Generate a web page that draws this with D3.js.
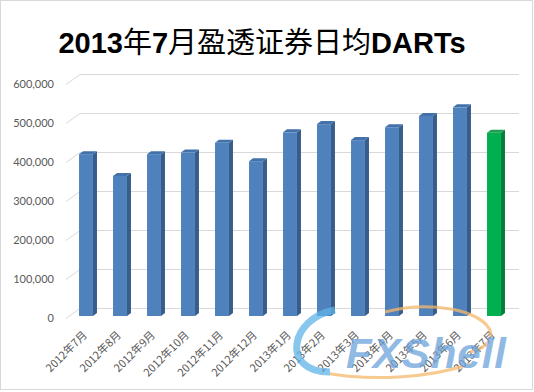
<!DOCTYPE html>
<html><head><meta charset="utf-8">
<script src="https://cdn.jsdelivr.net/npm/d3@7"></script>
<style>body{margin:0;background:#fff}svg{display:block}</style>
</head><body>
<svg id="c" width="534" height="392"></svg>
<script>
const categories = ["2012年7月","2012年8月","2012年9月","2012年10月","2012年11月","2012年12月","2013年1月","2013年2月","2013年3月","2013年4月","2013年5月","2013年6月","2013年7月"];
const darts = [415000,359000,415000,419000,444000,397000,471000,492000,451000,484000,513000,535000,470000];
const yTicks = [0,100000,200000,300000,400000,500000,600000];
const highlight = "2013年7月";

const svg = d3.select("#c");
svg.append("rect").attr("x",0.5).attr("y",0.5).attr("width",532).attr("height",389)
  .attr("fill","#fff").attr("stroke","#d9d9d9");

// title
const title = svg.append("text").attr("x",262).attr("y",53).attr("text-anchor","middle")
  .attr("font-size",29).attr("fill","#000");
[["2013",1],["年",0],["7",1],["月盈透证券日均",0],["DARTs",1]].forEach(([t,b])=>{
  title.append("tspan").text(t)
   .attr("font-family", b ? "Liberation Sans, Arial, sans-serif" : "Noto Sans CJK SC, sans-serif")
   .attr("font-weight", b ? "bold" : "normal");
});

const y = d3.scaleLinear().domain([0,600000]).range([318,84]);
const yBar = d3.scaleLinear().domain([0,600000]).range([316,82]);
const x = d3.scaleBand().domain(categories).range([69,511]).paddingInner(0.59).paddingOuter(0.295);
const dx = 14, dy = -10, right = 519;

// gridlines (3D wall)
const g = svg.append("g").attr("stroke","#d9d9d9").attr("fill","none").attr("stroke-width",1);
yTicks.forEach(t=>{
  const yy = Math.round(y(t))+0.5;
  g.append("path").attr("d",`M${66},${yy} L${66+dx},${yy+dy} L${right},${yy+dy}`);
});

// y labels
svg.append("g").selectAll("text").data(yTicks).join("text")
  .attr("x",54).attr("y",d=>y(d)).attr("dy","0.35em").attr("text-anchor","end")
  .attr("font-family","Lato, Carlito, sans-serif").attr("font-size",11).attr("fill","#595959")
  .text(d=>d3.format(",")(d));

// bars
const bw = x.bandwidth(), sd = 4, td = 3;
const bars = svg.append("g").selectAll("g").data(categories).join("g");
bars.each(function(c,i){
  const v = darts[i];
  const x0 = x(c), x1 = x0+bw, yt = yBar(v), yb = yBar(0);
  const hi = c===highlight;
  const front = hi ? "#00B050" : "#4F81BD";
  const side = hi ? "#00803A" : "#385D8A";
  const top = hi ? "#1E9E4E" : "#4372AA";
  const s = d3.select(this);
  s.append("path").attr("d",`M${x1},${yt} L${x1+sd},${yt-td} L${x1+sd},${yb-td} L${x1},${yb} Z`).attr("fill",side);
  s.append("path").attr("d",`M${x0},${yt} L${x0+sd},${yt-td} L${x1+sd},${yt-td} L${x1},${yt} Z`).attr("fill",top);
  s.append("rect").attr("x",x0).attr("y",yt).attr("width",bw).attr("height",yb-yt).attr("fill",front);
});

// x labels
svg.append("g").selectAll("text").data(categories).join("text")
  .attr("transform",d=>`translate(${x(d)+bw/2-1},${333}) rotate(-45)`)
  .attr("text-anchor","end").attr("dy","0.35em")
  .attr("font-family","Noto Sans CJK SC, sans-serif").attr("font-size",11).attr("fill","#595959")
  .text(d=>d);

// watermark
const wm = svg.append("g").attr("opacity",0.75);
wm.append("path").attr("d","M385,312 C430,300 480,310 490,330 C495,342 480,350 470,352")
  .attr("fill","none").attr("stroke","#F5B96B").attr("stroke-width",3);
wm.append("path").attr("d","M320,372 C370,382 430,378 470,364")
  .attr("fill","none").attr("stroke","#F5B96B").attr("stroke-width",3);
wm.append("path").attr("d","M335,310 C290,318 280,372 330,372")
  .attr("fill","none").attr("stroke","#5FB3E8").attr("stroke-width",7);
wm.append("text").attr("x",346).attr("y",368).attr("font-family","Liberation Sans, Arial, sans-serif")
  .attr("font-style","italic").attr("font-weight","bold").attr("font-size",42).attr("fill","#6BA3DB")
  .attr("textLength",160).text("FXShell");
</script>
</body></html>
